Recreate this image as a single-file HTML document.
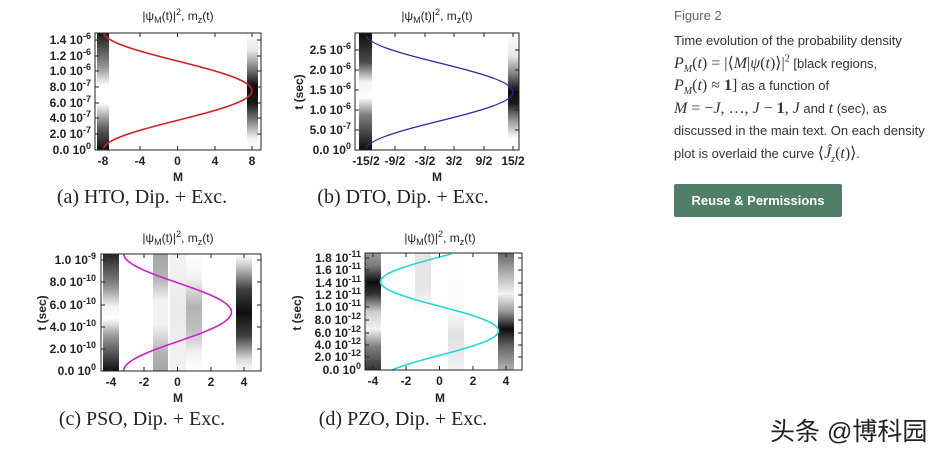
<!DOCTYPE html>
<html><head><meta charset="utf-8"><style>
body{margin:0;background:#fff;width:950px;height:453px;overflow:hidden;position:relative;font-family:"Liberation Sans",sans-serif}
.t{position:absolute;left:674px;color:#333;font-size:13px}
.t div{height:22.6px;line-height:22.6px;white-space:nowrap}
.m{font-family:"Liberation Serif",serif;font-style:italic;font-size:16px;line-height:10px}
.n{font-family:"Liberation Serif",serif;font-size:16px;line-height:10px}
sub,sup{line-height:0}
</style></head><body>
<svg id="s" width="950" height="453" style="position:absolute;left:0;top:0" font-family="Liberation Sans, sans-serif">
<defs id="d"></defs>
<g id="g"></g>
<g font-size="12" font-weight="bold" fill="#222">
<text x="178" y="20" text-anchor="middle" font-weight="normal" font-size="12">|ψ<tspan font-size="9" dy="3">M</tspan><tspan dy="-3">(t)|</tspan><tspan font-size="9" dy="-5">2</tspan><tspan dy="5">, m</tspan><tspan font-size="9" dy="3">z</tspan><tspan dy="-3">(t)</tspan></text>
<text x="437" y="20" text-anchor="middle" font-weight="normal" font-size="12">|ψ<tspan font-size="9" dy="3">M</tspan><tspan dy="-3">(t)|</tspan><tspan font-size="9" dy="-5">2</tspan><tspan dy="5">, m</tspan><tspan font-size="9" dy="3">z</tspan><tspan dy="-3">(t)</tspan></text>
<text x="178" y="242" text-anchor="middle" font-weight="normal" font-size="12">|ψ<tspan font-size="9" dy="3">M</tspan><tspan dy="-3">(t)|</tspan><tspan font-size="9" dy="-5">2</tspan><tspan dy="5">, m</tspan><tspan font-size="9" dy="3">z</tspan><tspan dy="-3">(t)</tspan></text>
<text x="440" y="242" text-anchor="middle" font-weight="normal" font-size="12">|ψ<tspan font-size="9" dy="3">M</tspan><tspan dy="-3">(t)|</tspan><tspan font-size="9" dy="-5">2</tspan><tspan dy="5">, m</tspan><tspan font-size="9" dy="3">z</tspan><tspan dy="-3">(t)</tspan></text>
<text x="178" y="181" text-anchor="middle">M</text>
<text x="437" y="181" text-anchor="middle">M</text>
<text x="178" y="402" text-anchor="middle">M</text>
<text x="440" y="402" text-anchor="middle">M</text>
<text transform="translate(303,92) rotate(-90)" text-anchor="middle">t (sec)</text>
<text transform="translate(46,313) rotate(-90)" text-anchor="middle">t (sec)</text>
<text transform="translate(301,313) rotate(-90)" text-anchor="middle">t (sec)</text>
</g>
<g id="tl" font-size="12" font-weight="bold" fill="#222"></g>
<g font-family="Liberation Serif, serif" font-size="20" fill="#222" text-anchor="middle">
<text x="142" y="203">(a) HTO, Dip. + Exc.</text>
<text x="403" y="203">(b) DTO, Dip. + Exc.</text>
<text x="142" y="425">(c) PSO, Dip. + Exc.</text>
<text x="403" y="425">(d) PZO, Dip. + Exc.</text>
</g>
</svg>
<div class="t" style="top:5px;color:#666"><div>Figure 2</div></div>
<div class="t" style="top:30px;width:275px">
<div>Time evolution of the probability density</div>
<div><span class="m">P<sub style="font-size:10px">M</sub></span><span class="n">(</span><span class="m">t</span><span class="n">) = |⟨</span><span class="m">M</span><span class="n">|</span><span class="m">ψ</span><span class="n">(</span><span class="m">t</span><span class="n">)⟩|<sup style="font-size:10px">2</sup></span> [black regions,</div>
<div><span class="m">P<sub style="font-size:10px">M</sub></span><span class="n">(</span><span class="m">t</span><span class="n">) ≈ <b>1</b>]</span> as a function of</div>
<div><span class="m">M</span><span class="n"> = −</span><span class="m">J</span><span class="n">, …, </span><span class="m">J</span><span class="n"> − <b>1</b>, </span><span class="m">J</span> and <span class="m">t</span> (sec), as</div>
<div>discussed in the main text. On each density</div>
<div>plot is overlaid the curve <span class="n">⟨</span><span class="m">Ĵ<sub style="font-size:10px">z</sub></span><span class="n">(</span><span class="m">t</span><span class="n">)⟩</span>.</div></div>
<div style="position:absolute;left:674px;top:184px;width:168px;height:33px;background:#4f7f68;border-radius:2px;color:#fff;font-weight:bold;font-size:13px;line-height:33px;text-align:center">Reuse &amp; Permissions</div>
<div style="position:absolute;left:770px;top:412px;font-size:25px;color:#222;font-family:'Liberation Sans','Noto Sans CJK SC',sans-serif">头条 @博科园</div>
<script>
const NS="http://www.w3.org/2000/svg",d=document.getElementById('d'),g=document.getElementById('g'),tl=document.getElementById('tl');
let gid=0;
function el(n,a,p){const e=document.createElementNS(NS,n);for(const k in a)e.setAttribute(k,a[k]);(p||g).appendChild(e);return e}
function band(x,w,y0,y1,stops){const id='gr'+(gid++);const lg=el('linearGradient',{id,x1:0,y1:0,x2:0,y2:1},d);
stops.forEach(s=>el('stop',{offset:s[0],'stop-color':'#000','stop-opacity':s[1]},lg));el('rect',{x,y:y0,width:w,height:y1-y0,fill:'url(#'+id+')'});}
function curve(f,y0,y1,col,wd){let p='';for(let y=y1;y>=y0;y-=0.5){p+=(p?'L':'M')+f(y).toFixed(2)+','+y.toFixed(2)}el('path',{d:p,fill:'none',stroke:col,'stroke-width':wd});}
function box(x0,y0,x1,y1){el('rect',{x:x0,y:y0,width:x1-x0,height:y1-y0,fill:'none',stroke:'#222','stroke-width':1});}
function tick(x,y,dx,dy){el('line',{x1:x,y1:y,x2:x+dx,y2:y+dy,stroke:'#222'})}
function ylab(x,y,a,b){const t=el('text',{x,y:y+4,'text-anchor':'end'},tl);t.textContent=a+' 10';const s=el('tspan',{dy:-5,'font-size':9},t);s.textContent=b;}
function xlab(x,y,s){const t=el('text',{x,y,'text-anchor':'middle'},tl);t.textContent=s;}
// (a)
band(97,12,33,150,[[0,0.9],[0.3,0.4],[0.45,0],[0.6,0],[0.8,0.6],[1,0.95]]);
band(247,11,33,150,[[0,0],[0.15,0.1],[0.3,0.5],[0.45,0.95],[0.6,0.9],[0.75,0.5],[0.9,0.05],[1,0]]);
curve(y=>{const t=(150-y)/117*1.46;return 177.5-8*9.3*Math.cos(Math.PI*t/0.74)},33,150,'#d42020',1.6);
box(95,33,261,150);
[['1.4','-6',40],['1.2','-6',56],['1.0','-6',71],['8.0','-7',87],['6.0','-7',103],['4.0','-7',118],['2.0','-7',134],['0.0','0',150]].forEach(a=>{ylab(91,a[2],a[0],a[1]);tick(95,a[2],4,0);tick(261,a[2],-4,0)});
[[-8,103],[-4,140],[0,177.5],[4,215],[8,252]].forEach(a=>{xlab(a[1],165,a[0]);tick(a[1],150,0,-4);tick(a[1],33,0,4)});
// (b)
band(359,13,33,150,[[0,0.95],[0.25,0.7],[0.42,0.05],[0.55,0],[0.7,0.5],[1,0.95]]);
band(508,11,33,150,[[0,0],[0.2,0.1],[0.35,0.5],[0.5,0.95],[0.6,0.9],[0.75,0.4],[0.9,0],[1,0]]);
curve(y=>{const t=(150-y)/40;return 439.5-7.5*9.8*Math.cos(Math.PI*t/1.45)},33,150,'#2828b0',1.2);
box(355,33,519,150);
[['2.5','-6',50],['2.0','-6',70],['1.5','-6',90],['1.0','-6',110],['5.0','-7',130],['0.0','0',150]].forEach(a=>{ylab(351,a[2],a[0],a[1]);tick(355,a[2],4,0);tick(519,a[2],-4,0)});
[['-15/2',366],['-9/2',395],['-3/2',425],['3/2',454],['9/2',484],['15/2',513]].forEach(a=>{xlab(a[1],165,a[0]);tick(a[1],150,0,-4);tick(a[1],33,0,4)});
// (c)
band(103,16,254,371,[[0,0.85],[0.25,0.5],[0.45,0.05],[0.55,0],[0.7,0.4],[1,0.95]]);
band(153,15,254,371,[[0,0.35],[0.2,0.3],[0.4,0.05],[0.6,0.05],[0.85,0.3],[1,0.35]]);
band(186,16,254,371,[[0,0],[0.2,0.05],[0.45,0.3],[0.65,0.25],[0.85,0.05],[1,0]]);
band(170,16,254,371,[[0,0.05],[0.5,0.08],[1,0.05]]);
band(236,16,254,371,[[0,0],[0.1,0.2],[0.3,0.75],[0.5,0.95],[0.7,0.75],[0.9,0.15],[1,0]]);
curve(y=>{const t=(371-y)/111;return 177.5-3.25*16.6*Math.cos(Math.PI*t/0.53)},254,371,'#d020d0',1.6);
box(101,254,261,371);
[['1.0','-9',260],['8.0','-10',282],['6.0','-10',305],['4.0','-10',327],['2.0','-10',349],['0.0','0',371]].forEach(a=>{ylab(96,a[2],a[0],a[1]);tick(101,a[2],4,0);tick(261,a[2],-4,0)});
[[-4,111],[-2,144],[0,177.5],[2,211],[4,244]].forEach(a=>{xlab(a[1],386,a[0]);tick(a[1],371,0,-4);tick(a[1],254,0,4)});
// (d)
band(365,16,253,370,[[0,0.4],[0.1,0.5],[0.25,0.95],[0.35,0.8],[0.5,0.2],[0.65,0.05],[0.8,0.5],[1,0.8]]);
band(415,16,253,370,[[0,0.1],[0.3,0.1],[0.5,0],[1,0]]);
band(448,16,253,370,[[0,0],[0.5,0.02],[0.7,0.12],[1,0.05]]);
band(498,16,253,370,[[0,0.6],[0.15,0.35],[0.35,0.05],[0.5,0.4],[0.65,0.95],[0.8,0.6],[1,0.3]]);
curve(y=>{const t=(370-y)/112*18;return 439.5+3.55*16.6*Math.cos(2*Math.PI*(t-6.3)/15.8)},254,370,'#20d8e0',1.6);
box(365,253,522,370);
[['1.8','-11',258],['1.6','-11',270],['1.4','-11',283],['1.2','-11',295],['1.0','-11',307],['8.0','-12',320],['6.0','-12',333],['4.0','-12',345],['2.0','-12',357],['0.0','0',370]].forEach(a=>{ylab(361,a[2],a[0],a[1]);tick(365,a[2],4,0);tick(522,a[2],-4,0)});
[[-4,373],[-2,406],[0,439.5],[2,473],[4,506]].forEach(a=>{xlab(a[1],385,a[0]);tick(a[1],370,0,-4);tick(a[1],253,0,4)});
</script>
</body></html>
